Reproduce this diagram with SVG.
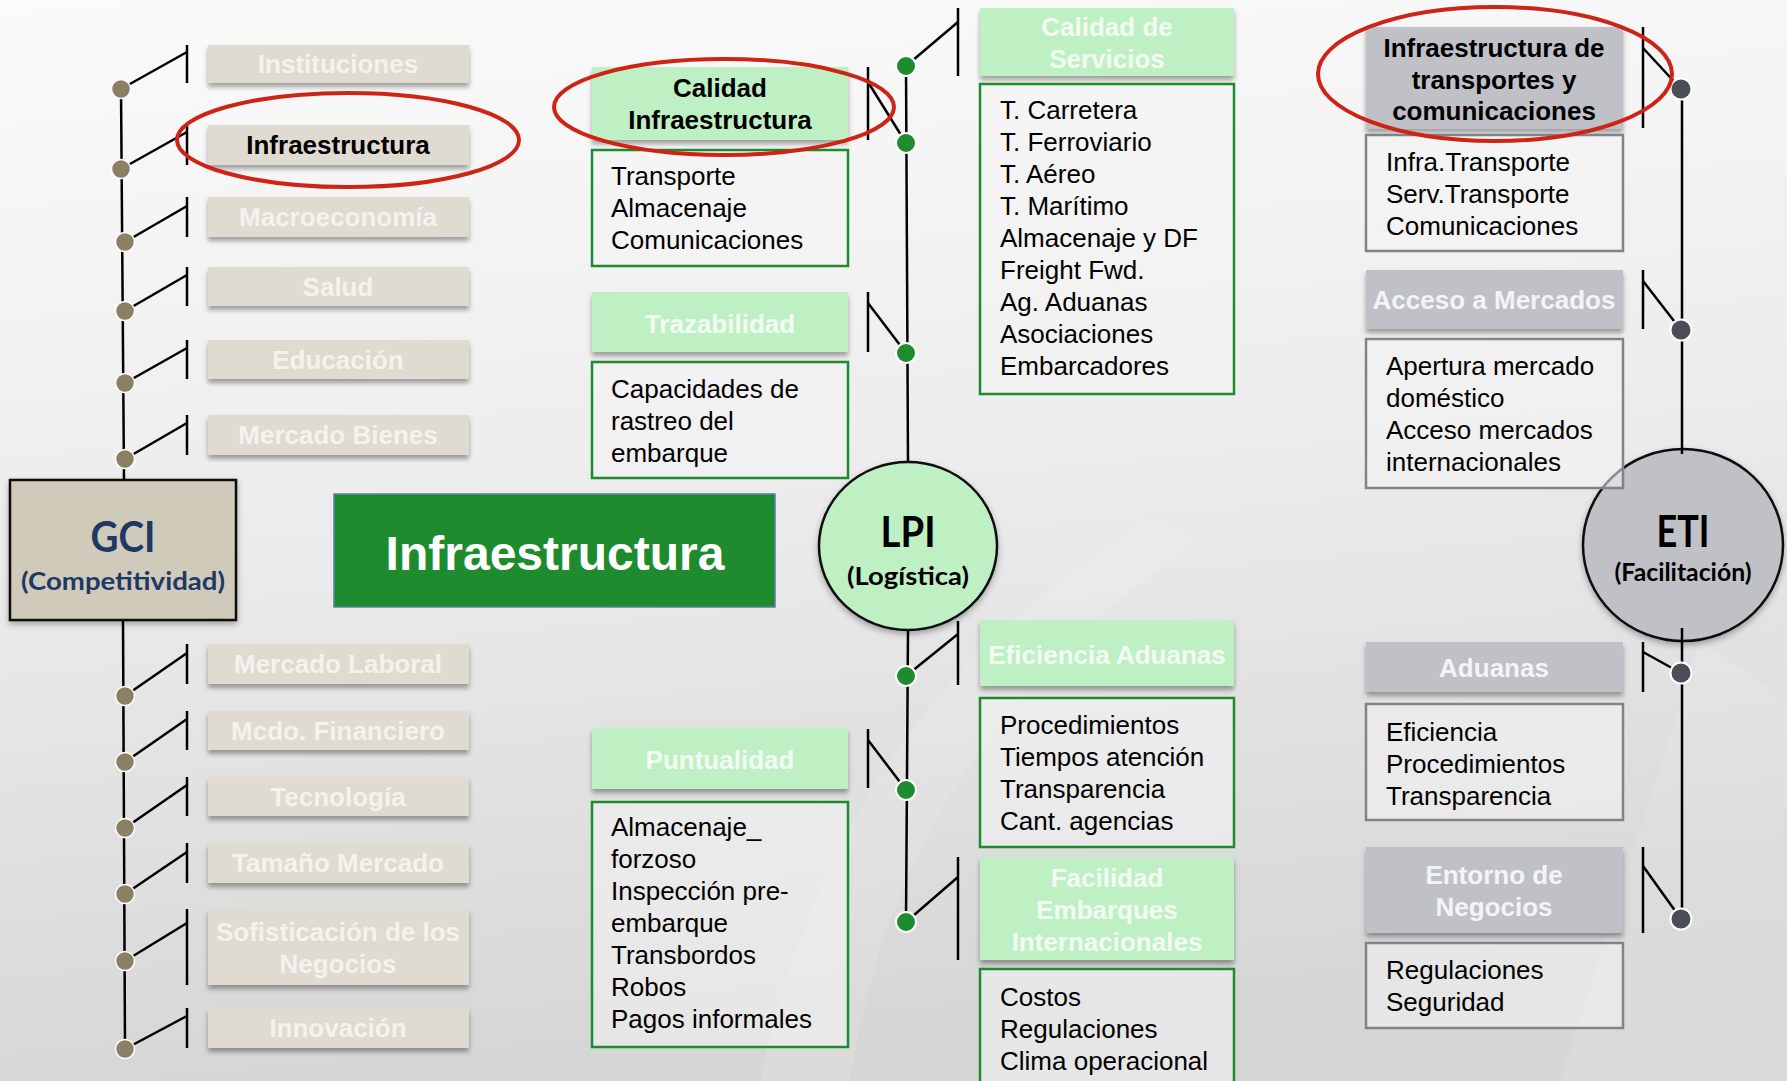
<svg xmlns="http://www.w3.org/2000/svg" width="1787" height="1081" viewBox="0 0 1787 1081">
<defs>
<linearGradient id="bg" x1="0" y1="0" x2="0.15" y2="1">
<stop offset="0" stop-color="#fbfbfb"/>
<stop offset="0.5" stop-color="#ececec"/>
<stop offset="1" stop-color="#d6d6d6"/>
</linearGradient>
<filter id="sh" x="-5%" y="-10%" width="110%" height="130%">
<feDropShadow dx="0" dy="4" stdDeviation="2.5" flood-color="#000" flood-opacity="0.35"/>
</filter>
<filter id="sh2" x="-10%" y="-10%" width="120%" height="130%">
<feDropShadow dx="0" dy="3" stdDeviation="3" flood-color="#000" flood-opacity="0.3"/>
</filter>
</defs>
<style>
text{font-family:"Liberation Sans",Arial,sans-serif}
.hb{font-weight:bold;font-size:26px;text-anchor:middle}
.fade{fill:#f4f2ee}
.gfade{fill:#f3fcf3}
.efade{fill:#f3f4f5}
.dark{fill:#000}
.li{font-size:26px;fill:#000}
.cal{font-family:Lato,"Open Sans",sans-serif;font-weight:bold;text-anchor:middle}
.gbox{fill:#dfdbd1;filter:url(#sh)}
.lbox{fill:#bff0c4;filter:url(#sh)}
.ebox{fill:#bfc1c6;filter:url(#sh)}
.glist{fill:#f4f4f4;fill-opacity:0.55;stroke:#1e8c2e;stroke-width:2.5}
.elist{fill:#f4f4f4;fill-opacity:0.55;stroke:#7f838a;stroke-width:2.5}
.ln{stroke:#000;stroke-width:2.5;fill:none}
.d1{fill:#8b7f64;stroke:#fff;stroke-width:1.5}
.d2{fill:#1e8c2e;stroke:#fff;stroke-width:2}
.d3{fill:#4b4e57;stroke:#fff;stroke-width:2}
.red{fill:none;stroke:#cd2415;stroke-width:4}
</style>
<rect x="0" y="0" width="1787" height="1081" fill="url(#bg)"/>
<path d="M760 1081 Q 840 700 1150 520 L 1200 540 Q 900 740 850 1081 Z" fill="#ffffff" fill-opacity="0.12"/>
<path d="M1560 1081 L 1700 640 L 1787 700 L 1787 1081 Z" fill="#ffffff" fill-opacity="0.10"/>

<g id="connectors">
<!-- GCI spine -->
<line class="ln" x1="121" y1="89" x2="124" y2="480"/>
<line class="ln" x1="123" y1="620" x2="125" y2="1049"/>
<!-- GCI ticks -->
<g class="ln">
<line x1="187" y1="45" x2="187" y2="83"/><line x1="121" y1="89" x2="187" y2="52"/>
<line x1="187" y1="125" x2="187" y2="165"/><line x1="121" y1="169" x2="187" y2="132"/>
<line x1="187" y1="197" x2="187" y2="237"/><line x1="125" y1="242" x2="187" y2="206"/>
<line x1="187" y1="267" x2="187" y2="306"/><line x1="125" y1="311" x2="187" y2="275"/>
<line x1="187" y1="340" x2="187" y2="379"/><line x1="125" y1="383" x2="187" y2="348"/>
<line x1="187" y1="415" x2="187" y2="455"/><line x1="125" y1="459" x2="187" y2="423"/>
<line x1="187" y1="644" x2="187" y2="684"/><line x1="125" y1="696" x2="187" y2="653"/>
<line x1="187" y1="711" x2="187" y2="750"/><line x1="125" y1="762" x2="187" y2="719"/>
<line x1="187" y1="777" x2="187" y2="816"/><line x1="125" y1="828" x2="187" y2="785"/>
<line x1="187" y1="843" x2="187" y2="883"/><line x1="125" y1="894" x2="187" y2="852"/>
<line x1="187" y1="909" x2="187" y2="985"/><line x1="125" y1="961" x2="187" y2="923"/>
<line x1="187" y1="1008" x2="187" y2="1048"/><line x1="125" y1="1049" x2="187" y2="1016"/>
</g>
<!-- LPI spine and ticks -->
<g class="ln">
<line x1="906" y1="66" x2="908" y2="462"/>
<line x1="908" y1="631" x2="906" y2="922"/>
<line x1="868" y1="67" x2="868" y2="140"/><line x1="868" y1="82" x2="906" y2="143"/>
<line x1="868" y1="292" x2="868" y2="352"/><line x1="868" y1="303" x2="906" y2="353"/>
<line x1="868" y1="729" x2="868" y2="788"/><line x1="868" y1="740" x2="906" y2="790"/>
<line x1="958" y1="8" x2="958" y2="76"/><line x1="958" y1="22" x2="906" y2="66"/>
<line x1="958" y1="621" x2="958" y2="685"/><line x1="958" y1="634" x2="906" y2="676"/>
<line x1="958" y1="857" x2="958" y2="960"/><line x1="958" y1="877" x2="906" y2="922"/>
</g>
<!-- ETI ticks -->
<g class="ln">
<line x1="1643" y1="27" x2="1643" y2="128"/><line x1="1643" y1="48" x2="1681" y2="89"/>
<line x1="1643" y1="270" x2="1643" y2="329"/><line x1="1643" y1="281" x2="1681" y2="330"/>
<line x1="1643" y1="642" x2="1643" y2="692"/><line x1="1643" y1="652" x2="1681" y2="673"/>
<line x1="1643" y1="847" x2="1643" y2="933"/><line x1="1643" y1="866" x2="1681" y2="919"/>
</g>
</g>

<!-- GCI column -->
<g id="gci">
<rect x="10" y="480" width="226" height="140" fill="#d0cabb" stroke="#111" stroke-width="2.5" filter="url(#sh2)"/>
<text class="cal" x="123" y="552" font-size="42" fill="#203864" textLength="65" lengthAdjust="spacingAndGlyphs">GCI</text>
<text class="cal" x="123" y="590" font-size="25" fill="#203864" textLength="204" lengthAdjust="spacingAndGlyphs">(Competitividad)</text>
</g>
<g id="n-instituciones"><rect class="gbox" x="208" y="45" width="261" height="38"/><text class="hb fade" x="338" y="73">Instituciones</text></g>
<g id="n-infraestructura"><rect class="gbox" x="208" y="125" width="261" height="40"/><text class="hb dark" x="338" y="154">Infraestructura</text></g>
<g id="n-macro"><rect class="gbox" x="208" y="197" width="261" height="40"/><text class="hb fade" x="338" y="226">Macroeconomía</text></g>
<g id="n-salud"><rect class="gbox" x="208" y="267" width="261" height="39"/><text class="hb fade" x="338" y="296">Salud</text></g>
<g id="n-educacion"><rect class="gbox" x="208" y="340" width="261" height="39"/><text class="hb fade" x="338" y="369">Educación</text></g>
<g id="n-mbienes"><rect class="gbox" x="208" y="415" width="261" height="40"/><text class="hb fade" x="338" y="444">Mercado Bienes</text></g>
<g id="n-mlaboral"><rect class="gbox" x="208" y="644" width="261" height="40"/><text class="hb fade" x="338" y="673">Mercado Laboral</text></g>
<g id="n-mfin"><rect class="gbox" x="208" y="711" width="261" height="39"/><text class="hb fade" x="338" y="740">Mcdo. Financiero</text></g>
<g id="n-tec"><rect class="gbox" x="208" y="777" width="261" height="39"/><text class="hb fade" x="338" y="806">Tecnología</text></g>
<g id="n-tam"><rect class="gbox" x="208" y="843" width="261" height="40"/><text class="hb fade" x="338" y="872">Tamaño Mercado</text></g>
<g id="n-sof"><rect class="gbox" x="208" y="909" width="261" height="76"/><text class="hb fade" x="338" y="941">Sofisticación de los</text><text class="hb fade" x="338" y="973">Negocios</text></g>
<g id="n-inn"><rect class="gbox" x="208" y="1008" width="261" height="40"/><text class="hb fade" x="338" y="1037">Innovación</text></g>

<!-- central title -->
<g id="title">
<rect x="334" y="494" width="441" height="113" fill="#1e8c2e" stroke="#5a7fa8" stroke-width="1.5"/>
<text x="555" y="570" font-size="48" font-weight="bold" fill="#fff" text-anchor="middle">Infraestructura</text>
</g>

<!-- LPI column -->
<g id="lpi">
<ellipse cx="908" cy="546" rx="89" ry="84" fill="#bff0c4" stroke="#111" stroke-width="2.5" filter="url(#sh2)"/>
<text class="cal" x="908" y="547" font-size="42" fill="#000" textLength="55" lengthAdjust="spacingAndGlyphs">LPI</text>
<text class="cal" x="908" y="585" font-size="25" fill="#000" textLength="122" lengthAdjust="spacingAndGlyphs">(Logística)</text>
</g>
<g id="n-calinfra"><rect class="lbox" x="592" y="67" width="256" height="73"/><text class="hb dark" x="720" y="97">Calidad</text><text class="hb dark" x="720" y="129">Infraestructura</text></g>
<g id="l-calinfra"><rect class="glist" x="592" y="150" width="256" height="116"/>
<text class="li" x="611" y="185">Transporte</text><text class="li" x="611" y="217">Almacenaje</text><text class="li" x="611" y="249">Comunicaciones</text></g>
<g id="n-traz"><rect class="lbox" x="592" y="292" width="256" height="60"/><text class="hb gfade" x="720" y="333">Trazabilidad</text></g>
<g id="l-traz"><rect class="glist" x="592" y="362" width="256" height="116"/>
<text class="li" x="611" y="398">Capacidades de</text><text class="li" x="611" y="430">rastreo del</text><text class="li" x="611" y="462">embarque</text></g>
<g id="n-punt"><rect class="lbox" x="592" y="728" width="256" height="61"/><text class="hb gfade" x="720" y="769">Puntualidad</text></g>
<g id="l-punt"><rect class="glist" x="592" y="802" width="256" height="245"/>
<text class="li" x="611" y="836">Almacenaje_</text><text class="li" x="611" y="868">forzoso</text><text class="li" x="611" y="900">Inspección pre-</text><text class="li" x="611" y="932">embarque</text><text class="li" x="611" y="964">Transbordos</text><text class="li" x="611" y="996">Robos</text><text class="li" x="611" y="1028">Pagos informales</text></g>

<g id="n-calserv"><rect class="lbox" x="980" y="8" width="254" height="68"/><text class="hb gfade" x="1107" y="36">Calidad de</text><text class="hb gfade" x="1107" y="68">Servicios</text></g>
<g id="l-calserv"><rect class="glist" x="980" y="84" width="254" height="310"/>
<text class="li" x="1000" y="119">T. Carretera</text><text class="li" x="1000" y="151">T. Ferroviario</text><text class="li" x="1000" y="183">T. Aéreo</text><text class="li" x="1000" y="215">T. Marítimo</text><text class="li" x="1000" y="247">Almacenaje y DF</text><text class="li" x="1000" y="279">Freight Fwd.</text><text class="li" x="1000" y="311">Ag. Aduanas</text><text class="li" x="1000" y="343">Asociaciones</text><text class="li" x="1000" y="375">Embarcadores</text></g>
<g id="n-efadu"><rect class="lbox" x="980" y="620" width="254" height="66"/><text class="hb gfade" x="1107" y="664">Eficiencia Aduanas</text></g>
<g id="l-efadu"><rect class="glist" x="980" y="698" width="254" height="149"/>
<text class="li" x="1000" y="734">Procedimientos</text><text class="li" x="1000" y="766">Tiempos atención</text><text class="li" x="1000" y="798">Transparencia</text><text class="li" x="1000" y="830">Cant. agencias</text></g>
<g id="n-facil"><rect class="lbox" x="980" y="857" width="254" height="103"/><text class="hb gfade" x="1107" y="887">Facilidad</text><text class="hb gfade" x="1107" y="919">Embarques</text><text class="hb gfade" x="1107" y="951">Internacionales</text></g>
<g id="l-facil"><rect class="glist" x="980" y="969" width="254" height="140"/>
<text class="li" x="1000" y="1006">Costos</text><text class="li" x="1000" y="1038">Regulaciones</text><text class="li" x="1000" y="1070">Clima operacional</text></g>

<!-- ETI column -->
<g id="eti">
<ellipse cx="1683" cy="545" rx="100" ry="96" fill="#bfc1c6" stroke="#111" stroke-width="2.5" filter="url(#sh2)"/>
<text class="cal" x="1683" y="547" font-size="44" fill="#000" textLength="53" lengthAdjust="spacingAndGlyphs">ETI</text>
<text class="cal" x="1683" y="581" font-size="25" fill="#000" textLength="137" lengthAdjust="spacingAndGlyphs">(Facilitación)</text>
</g>
<g id="n-infratc"><rect class="ebox" x="1366" y="27" width="257" height="102"/><text class="hb dark" x="1494" y="57">Infraestructura de</text><text class="hb dark" x="1494" y="89">transportes y</text><text class="hb dark" x="1494" y="120">comunicaciones</text></g>
<g id="l-infratc"><rect class="elist" x="1366" y="135" width="257" height="116"/>
<text class="li" x="1386" y="171">Infra.Transporte</text><text class="li" x="1386" y="203">Serv.Transporte</text><text class="li" x="1386" y="235">Comunicaciones</text></g>
<g id="n-acceso"><rect class="ebox" x="1366" y="270" width="257" height="59"/><text class="hb efade" x="1494" y="309">Acceso a Mercados</text></g>
<g id="l-acceso"><rect class="elist" x="1366" y="339" width="257" height="149"/>
<text class="li" x="1386" y="375">Apertura mercado</text><text class="li" x="1386" y="407">doméstico</text><text class="li" x="1386" y="439">Acceso mercados</text><text class="li" x="1386" y="471">internacionales</text></g>
<g id="n-aduanas"><rect class="ebox" x="1366" y="642" width="257" height="50"/><text class="hb efade" x="1494" y="677">Aduanas</text></g>
<g id="l-aduanas"><rect class="elist" x="1366" y="704" width="257" height="116"/>
<text class="li" x="1386" y="741">Eficiencia</text><text class="li" x="1386" y="773">Procedimientos</text><text class="li" x="1386" y="805">Transparencia</text></g>
<g id="n-entorno"><rect class="ebox" x="1366" y="847" width="257" height="86"/><text class="hb efade" x="1494" y="884">Entorno de</text><text class="hb efade" x="1494" y="916">Negocios</text></g>
<g id="l-entorno"><rect class="elist" x="1366" y="943" width="257" height="85"/>
<text class="li" x="1386" y="979">Regulaciones</text><text class="li" x="1386" y="1011">Seguridad</text></g>

<g id="connector-dots">
<line class="ln" x1="1682" y1="89" x2="1682" y2="454"/>
<line class="ln" x1="1682" y1="628" x2="1682" y2="919"/>
<circle class="d1" cx="121" cy="89" r="9.5"/><circle class="d1" cx="121" cy="169" r="9.5"/>
<circle class="d1" cx="125" cy="242" r="9.5"/><circle class="d1" cx="125" cy="311" r="9.5"/>
<circle class="d1" cx="125" cy="383" r="9.5"/><circle class="d1" cx="125" cy="459" r="9.5"/>
<circle class="d1" cx="125" cy="696" r="9.5"/><circle class="d1" cx="125" cy="762" r="9.5"/>
<circle class="d1" cx="125" cy="828" r="9.5"/><circle class="d1" cx="125" cy="894" r="9.5"/>
<circle class="d1" cx="125" cy="961" r="9.5"/><circle class="d1" cx="125" cy="1049" r="9.5"/>
<circle class="d2" cx="906" cy="66" r="10"/><circle class="d2" cx="906" cy="143" r="10"/>
<circle class="d2" cx="906" cy="353" r="10"/><circle class="d2" cx="906" cy="676" r="10"/>
<circle class="d2" cx="906" cy="790" r="10"/><circle class="d2" cx="906" cy="922" r="10"/>
<circle class="d3" cx="1681" cy="89" r="10.5"/><circle class="d3" cx="1681" cy="330" r="10.5"/>
<circle class="d3" cx="1681" cy="673" r="10.5"/><circle class="d3" cx="1681" cy="919" r="10.5"/>
</g>

<g id="highlights">
<ellipse class="red" cx="348" cy="140" rx="171" ry="47"/>
<ellipse class="red" cx="724" cy="107" rx="170" ry="48"/>
<ellipse class="red" cx="1495" cy="74" rx="177" ry="67"/>
</g>
</svg>
